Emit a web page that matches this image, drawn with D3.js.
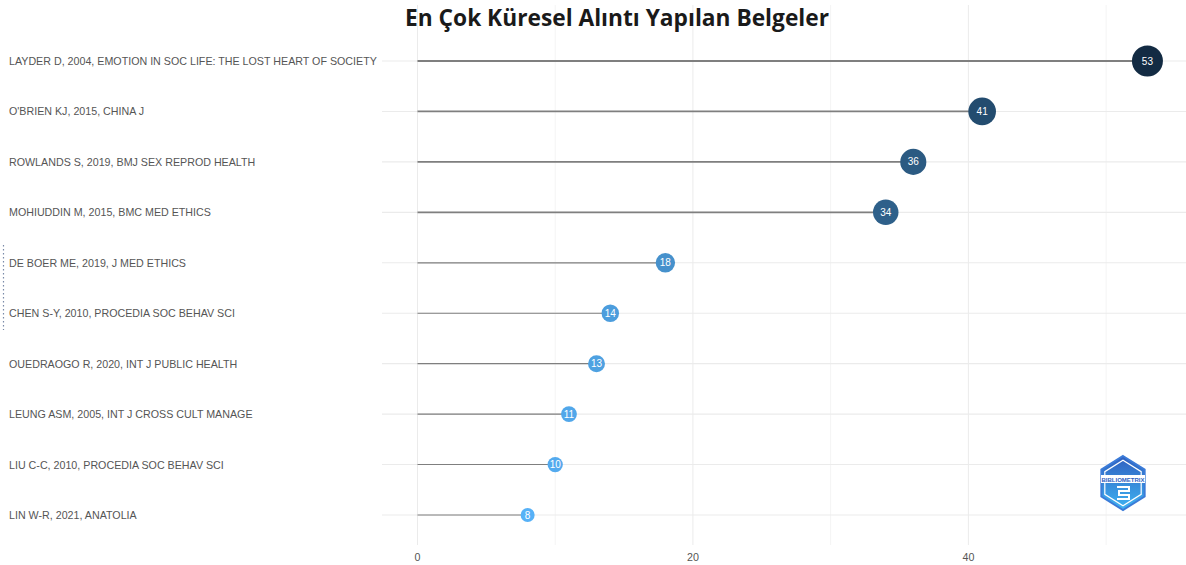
<!DOCTYPE html>
<html>
<head>
<meta charset="utf-8">
<script src="https://cdn.jsdelivr.net/npm/d3@7"></script>
<style>
  body { margin: 0; background: #fff; }
  svg { display: block; font-family: "Liberation Sans", Arial, sans-serif; }
</style>
</head>
<body>
<svg id="chart" width="1186" height="565"></svg>
<script>
// documents and their global citation counts
var documents = [
    "LAYDER D, 2004, EMOTION IN SOC LIFE: THE LOST HEART OF SOCIETY",
    "O'BRIEN KJ, 2015, CHINA J",
    "ROWLANDS S, 2019, BMJ SEX REPROD HEALTH",
    "MOHIUDDIN M, 2015, BMC MED ETHICS",
    "DE BOER ME, 2019, J MED ETHICS",
    "CHEN S-Y, 2010, PROCEDIA SOC BEHAV SCI",
    "OUEDRAOGO R, 2020, INT J PUBLIC HEALTH",
    "LEUNG ASM, 2005, INT J CROSS CULT MANAGE",
    "LIU C-C, 2010, PROCEDIA SOC BEHAV SCI",
    "LIN W-R, 2021, ANATOLIA"
];
var citations = [53, 41, 36, 34, 18, 14, 13, 11, 10, 8];
var xTicks = [0, 20, 40];
var xMinor = [10, 30, 50];
var title = "En Çok Küresel Alıntı Yapılan Belgeler";

var svg = d3.select("#chart"),
    margin = {top: 30, right: 0, bottom: 20, left: 380},
    width = +svg.attr("width") - margin.left - margin.right,
    height = +svg.attr("height") - margin.top - margin.bottom;

var data = documents.map(function (d, i) {
    return {name: d, value: citations[i]};
});

var x = d3.scaleLinear()
    .domain([-2.72, 55.8])
    .range([margin.left, margin.left + width]);

var y = d3.scalePoint()
    .domain(documents)
    .range([61, 515]);

var size = d3.scaleSqrt()
    .domain([8, 53])
    .range([7, 15.5]);

var color = d3.scaleLinear()
    .domain([8, 53])
    .range(["#56B1F7", "#132B43"])
    .interpolate(d3.interpolateLab);

var g = svg.append("g");

// minor vertical grid
g.selectAll(".vminor")
    .data(xMinor)
    .enter().append("line")
    .attr("x1", function (d) { return x(d); })
    .attr("x2", function (d) { return x(d); })
    .attr("y1", 5).attr("y2", 545)
    .attr("stroke", "#f4f4f4").attr("stroke-width", 1);

// major vertical grid
g.selectAll(".vmajor")
    .data(xTicks)
    .enter().append("line")
    .attr("x1", function (d) { return x(d); })
    .attr("x2", function (d) { return x(d); })
    .attr("y1", 5).attr("y2", 545)
    .attr("stroke", "#ebebeb").attr("stroke-width", 1);

// horizontal grid
g.selectAll(".hgrid")
    .data(documents)
    .enter().append("line")
    .attr("x1", margin.left + 2)
    .attr("x2", margin.left + width)
    .attr("y1", function (d) { return y(d); })
    .attr("y2", function (d) { return y(d); })
    .attr("stroke", "#ebebeb").attr("stroke-width", 1.1);

// lollipop stems
g.selectAll(".stem")
    .data(data)
    .enter().append("line")
    .attr("x1", x(0))
    .attr("x2", function (d) { return x(d.value); })
    .attr("y1", function (d) { return y(d.name); })
    .attr("y2", function (d) { return y(d.name); })
    .attr("stroke", "#7f7f7f")
    .attr("stroke-width", function (d) { return 0.8 + d.value / 40; });

// dots
g.selectAll(".dot")
    .data(data)
    .enter().append("circle")
    .attr("cx", function (d) { return x(d.value); })
    .attr("cy", function (d) { return y(d.name); })
    .attr("r", function (d) { return size(d.value); })
    .attr("fill", function (d) { return color(d.value); });

// values inside dots
g.selectAll(".val")
    .data(data)
    .enter().append("text")
    .attr("x", function (d) { return x(d.value); })
    .attr("y", function (d) { return y(d.name) + 3.5; })
    .attr("text-anchor", "middle")
    .attr("font-size", "10px")
    .attr("fill", "#ffffff")
    .text(function (d) { return d.value; });

// y labels
g.selectAll(".ylab")
    .data(documents)
    .enter().append("text")
    .attr("x", 9)
    .attr("y", function (d) { return y(d) + 4; })
    .attr("font-size", "10.7px")
    .attr("fill", "#555555")
    .text(function (d) { return d; });

// x axis tick labels
g.selectAll(".xlab")
    .data(xTicks)
    .enter().append("text")
    .attr("x", function (d) { return x(d); })
    .attr("y", 561)
    .attr("text-anchor", "middle")
    .attr("font-size", "10.7px")
    .attr("fill", "#555555")
    .text(function (d) { return d; });

// small dotted mark on the left edge
g.append("line")
    .attr("x1", 3.5).attr("x2", 3.5)
    .attr("y1", 245).attr("y2", 330)
    .attr("stroke", "#7a8aa8")
    .attr("stroke-width", 1.2)
    .attr("stroke-dasharray", "1.5,2.5");

// title
svg.append("text")
    .attr("x", 617)
    .attr("y", 26)
    .attr("text-anchor", "middle")
    .attr("font-family", "'Open Sans', sans-serif")
    .attr("font-weight", "bold")
    .attr("font-size", "23px")
    .attr("textLength", 424)
    .attr("lengthAdjust", "spacingAndGlyphs")
    .attr("fill", "#1a1a1a")
    .text(title);

// bibliometrix badge
var defs = svg.append("defs");
var grad = defs.append("linearGradient")
    .attr("id", "badge").attr("x1", 0).attr("y1", 0).attr("x2", 0).attr("y2", 1);
grad.append("stop").attr("offset", "0%").attr("stop-color", "#2f5fc0");
grad.append("stop").attr("offset", "100%").attr("stop-color", "#3fb4f2");

var logo = svg.append("g").attr("transform", "translate(1123,483)");
var hex = d3.range(6).map(function (i) {
    var a = Math.PI / 3 * i - Math.PI / 2;
    return [25 * Math.cos(a), 27 * Math.sin(a)];
});
logo.append("path")
    .attr("d", d3.line()(hex) + "Z")
    .attr("fill", "url(#badge)")
    .attr("stroke", "#3b7bd8").attr("stroke-width", 2);
var inner = hex.map(function (p) { return [p[0] * 0.84, p[1] * 0.84]; });
logo.append("path")
    .attr("d", d3.line()(inner) + "Z")
    .attr("fill", "none")
    .attr("stroke", "#ffffff").attr("stroke-width", 1.2);
logo.append("rect")
    .attr("x", -22).attr("y", -8).attr("width", 44).attr("height", 8)
    .attr("fill", "#ffffff");
logo.append("text")
    .attr("x", 0).attr("y", -1.5)
    .attr("text-anchor", "middle")
    .attr("font-size", "6px")
    .attr("font-weight", "bold")
    .attr("fill", "#2f5fc0")
    .text("BIBLIOMETRIX");
logo.append("path")
    .attr("d", "M-6,4 L6,4 L6,8 L-4,8 L-4,12 L6,12 L6,16 L-6,16")
    .attr("fill", "none")
    .attr("stroke", "#ffffff").attr("stroke-width", 2);
</script>
</body>
</html>
